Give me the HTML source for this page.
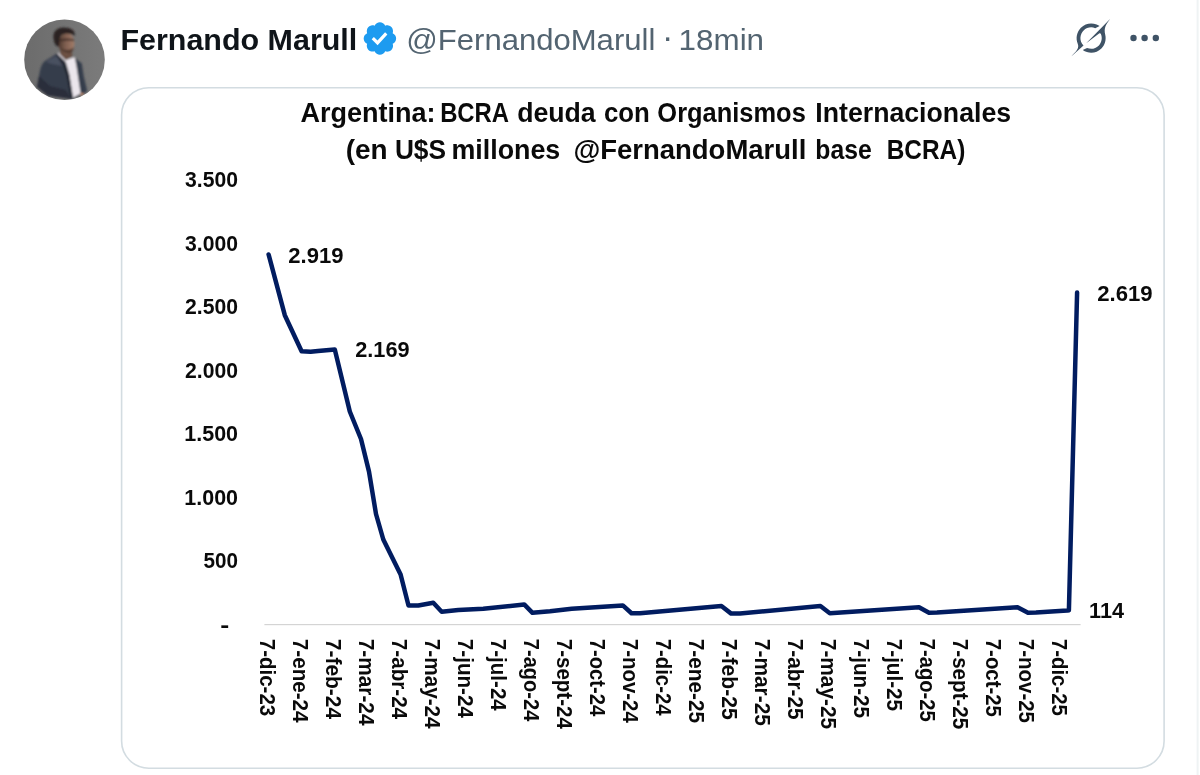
<!DOCTYPE html>
<html lang="es"><head><meta charset="utf-8"><title>Fernando Marull</title>
<style>
html,body{margin:0;padding:0;background:#fff;}
body{width:1200px;height:775px;overflow:hidden;font-family:"Liberation Sans", sans-serif;}
svg{display:block;}
text{font-family:"Liberation Sans", sans-serif;}
.b{font-weight:bold;}
</style></head><body>
<svg width="1200" height="775" viewBox="0 0 1200 775">
<defs>
<clipPath id="av"><circle cx="64.5" cy="59.7" r="40.3"/></clipPath>
<filter id="bl" x="-10%" y="-10%" width="120%" height="120%"><feGaussianBlur stdDeviation="0.9"/></filter>
<linearGradient id="bg" x1="0" y1="0" x2="1" y2="0"><stop offset="0" stop-color="#6b6b6b"/><stop offset="1" stop-color="#7c7c7c"/></linearGradient>
<linearGradient id="fc" x1="0" y1="0" x2="1" y2="0"><stop offset="0" stop-color="#503b31"/><stop offset=".45" stop-color="#805f50"/><stop offset="1" stop-color="#a37d6a"/></linearGradient>
</defs>
<rect width="1200" height="775" fill="#fff"/>

<rect x="1196.6" y="0" width="2" height="775" fill="#eff3f4"/>
<g clip-path="url(#av)">
<rect x="20" y="15" width="90" height="90" fill="url(#bg)"/>
<g filter="url(#bl)">
<path d="M57 53.500 L44.600 61.300 C41.500 64 40.300 68.700 39.500 73 L37 87 L47.700 95.500 L71 99 L81 95.500 L87.200 91 L83.700 76 L81.800 63.400 L74.700 57.800 L66 60 Z" fill="#363c4b"/>
<path d="M46 62 C50 58.500 54 57 57.500 56 L62 66 L52 64 Z" fill="#535a6b" opacity=".7"/>
<path d="M39 76 L37 87 L47.700 95.500 L71 99 L66 90 L50 86 Z" fill="#262a35" opacity=".75"/>
<path d="M57.800 52 L65.700 60 L74.700 57 L76.500 66.600 L80.600 93.500 L73.100 97.800 L69.500 75 L65.700 62 L58.500 55 Z" fill="#ebe6ec"/>
<path d="M57.500 54 L65.500 62 L69.300 75 L72.800 97.500 L70.500 98.500 L66.500 76 L62.500 64 L56.500 56 Z" fill="#1f232d" opacity=".8"/>
<path d="M60.400 50 L71.500 50 L72.500 56.500 L66 60 L60 54.500 Z" fill="#6a4f43"/>
<ellipse cx="66.500" cy="43.600" rx="8" ry="10.600" fill="url(#fc)"/>
<path d="M54.200 42 C52.400 35 53.700 30.800 58 28.700 C62 26.800 68.500 27 72 29.600 C74.500 31.500 75.200 33.500 74.600 36 C71.500 32.800 64.500 32.800 60.800 35.200 C59.800 38.500 59.500 42 59 46.500 C57 46.800 55 45 54.200 42 Z" fill="#2a2320"/>
<path d="M60.500 39.300 C64 38.300 70 38.300 74 39.200 L74 41.300 C70 40.600 64 40.700 60.500 41.600 Z" fill="#3a2a24" opacity=".75"/>
<path d="M60 47 C62 51.500 66 54.500 70.500 53 C72.500 52 73.500 49.500 74 47 C71 50.500 64 51 60 47 Z" fill="#4a362d" opacity=".85"/>
<ellipse cx="81.800" cy="94.200" rx="1.600" ry="1.100" fill="#c98a62"/>
</g></g>

<svg x="360.9" y="19.5" width="38" height="38" viewBox="0 0 22 22"><path fill="#1d9bf0" d="M20.396 11c-.018-.646-.215-1.275-.57-1.816-.354-.54-.852-.972-1.438-1.246.223-.607.27-1.264.14-1.897-.131-.634-.437-1.218-.882-1.687-.47-.445-1.053-.75-1.687-.882-.633-.13-1.29-.083-1.897.14-.273-.587-.704-1.086-1.245-1.44S11.647 1.620 11 1.604c-.646.017-1.273.213-1.813.568s-.969.854-1.240 1.440c-.608-.223-1.267-.272-1.902-.140-.635.130-1.220.436-1.690.882-.445.470-.749 1.055-.878 1.688-.130.633-.080 1.290.144 1.896-.587.274-1.087.705-1.443 1.245-.356.540-.555 1.170-.574 1.817.020.647.218 1.276.574 1.817.356.540.856.972 1.443 1.245-.224.606-.274 1.263-.144 1.896.130.634.433 1.218.877 1.688.470.443 1.054.747 1.687.878.633.132 1.290.084 1.897-.136.274.586.705 1.084 1.246 1.439.540.354 1.170.551 1.816.569.647-.016 1.276-.213 1.817-.567s.972-.854 1.245-1.440c.604.239 1.266.296 1.903.164.636-.132 1.220-.447 1.680-.907.460-.460.776-1.044.908-1.681s.075-1.299-.165-1.903c.586-.274 1.084-.705 1.439-1.246.354-.540.551-1.170.569-1.816zM9.662 14.850l-3.429-3.428 1.293-1.302 2.072 2.072 4.400-4.794 1.347 1.246z"/></svg>
<text x="662.0" y="47.6" font-size="34" fill="#536471">·</text>
<svg x="1071.2" y="19.0" width="38.8" height="37.6" viewBox="0 0 33 32"><path fill="#3f5366" d="M12.745 20.540l10.970-8.190c.539-.400 1.307-.244 1.564.380 1.349 3.288.746 7.241-1.938 9.955-2.683 2.714-6.417 3.310-9.830 1.954l-3.728 1.745c5.347 3.697 11.840 2.782 15.898-1.324 3.219-3.255 4.216-7.692 3.284-11.693l.008.009c-1.351-5.878.332-8.227 3.782-13.031L33 0l-4.540 4.590v-.014L12.743 20.544m-2.263 1.987c-3.837-3.707-3.175-9.446.100-12.755 2.420-2.449 6.388-3.448 9.852-1.979l3.720-1.737c-.670-.490-1.530-1.017-2.515-1.387-4.455-1.854-9.789-.931-13.410 2.728-3.483 3.523-4.579 8.940-2.697 13.561 1.405 3.454-.899 5.898-3.220 8.364C1.490 30.200.666 31.074 0 32l10.478-9.466"/></svg>

<circle cx="1133.5" cy="38" r="3.2" fill="#3f5366"/>
<circle cx="1144.6" cy="38" r="3.2" fill="#3f5366"/>
<circle cx="1155.8" cy="38" r="3.2" fill="#3f5366"/>
<rect x="121.600" y="87.700" width="1042.500" height="680.500" rx="27.2" ry="27.2" fill="#fff" stroke="#d3dce1" stroke-width="1.600"/>
<rect x="264.400" y="624" width="816.200" height="1.200" fill="#d4d4d4"/>
<path d="M268.6 254.5 L284.8 315.2 L301.6 351.3 L310.6 351.8 L318.0 351.0 L334.8 349.5 L349.8 411.5 L361.0 439.0 L369.0 471.6 L376.0 514.0 L383.3 539.5 L400.6 574.5 L408.5 605.5 L418.3 605.5 L433.3 602.8 L441.7 611.7 L458.3 610.0 L483.3 608.8 L524.2 604.4 L532.5 612.8 L550.0 611.3 L571.7 608.8 L622.8 605.4 L631.5 613.2 L640.0 613.2 L721.4 606.0 L731.2 613.6 L740.0 613.6 L820.4 606.0 L829.8 613.2 L919.0 607.3 L929.0 612.8 L937.0 612.6 L1017.5 607.3 L1028.0 612.8 L1036.0 612.6 L1067.3 610.6 L1068.9 610.2 L1077.1 292.5" fill="none" stroke="#011c60" stroke-width="4.5" stroke-linejoin="round" stroke-linecap="round"/>
<text class="b" x="300.49" y="122.00" font-size="27.2" fill="#0a0a0a" textLength="135.09" lengthAdjust="spacingAndGlyphs">Argentina:</text>
<text class="b" x="440.13" y="122.00" font-size="27.2" fill="#0a0a0a" textLength="68.98" lengthAdjust="spacingAndGlyphs">BCRA</text>
<text class="b" x="517.15" y="122.00" font-size="27.2" fill="#0a0a0a" textLength="78.50" lengthAdjust="spacingAndGlyphs">deuda</text>
<text class="b" x="604.04" y="122.00" font-size="27.2" fill="#0a0a0a" textLength="45.85" lengthAdjust="spacingAndGlyphs">con</text>
<text class="b" x="657.35" y="122.00" font-size="27.2" fill="#0a0a0a" textLength="148.45" lengthAdjust="spacingAndGlyphs">Organismos</text>
<text class="b" x="815.30" y="122.00" font-size="27.2" fill="#0a0a0a" textLength="195.79" lengthAdjust="spacingAndGlyphs">Internacionales</text>
<text class="b" x="345.73" y="159.10" font-size="27.2" fill="#0a0a0a" textLength="41.84" lengthAdjust="spacingAndGlyphs">(en</text>
<text class="b" x="394.88" y="159.10" font-size="27.2" fill="#0a0a0a" textLength="51.15" lengthAdjust="spacingAndGlyphs">U$S</text>
<text class="b" x="451.44" y="159.10" font-size="27.2" fill="#0a0a0a" textLength="108.85" lengthAdjust="spacingAndGlyphs">millones</text>
<text class="b" x="573.49" y="159.10" font-size="27.2" fill="#0a0a0a" textLength="232.81" lengthAdjust="spacingAndGlyphs">@FernandoMarull</text>
<text class="b" x="815.32" y="159.10" font-size="27.2" fill="#0a0a0a" textLength="56.43" lengthAdjust="spacingAndGlyphs">base</text>
<text class="b" x="886.73" y="159.10" font-size="27.2" fill="#0a0a0a" textLength="78.60" lengthAdjust="spacingAndGlyphs">BCRA)</text>
<text class="b" x="185.06" y="187.00" font-size="22.0" fill="#0a0a0a" textLength="52.99" lengthAdjust="spacingAndGlyphs">3.500</text>
<text class="b" x="185.06" y="250.50" font-size="22.0" fill="#0a0a0a" textLength="52.99" lengthAdjust="spacingAndGlyphs">3.000</text>
<text class="b" x="185.05" y="314.00" font-size="22.0" fill="#0a0a0a" textLength="52.98" lengthAdjust="spacingAndGlyphs">2.500</text>
<text class="b" x="185.05" y="377.50" font-size="22.0" fill="#0a0a0a" textLength="52.98" lengthAdjust="spacingAndGlyphs">2.000</text>
<text class="b" x="184.29" y="441.00" font-size="22.0" fill="#0a0a0a" textLength="53.76" lengthAdjust="spacingAndGlyphs">1.500</text>
<text class="b" x="184.29" y="504.50" font-size="22.0" fill="#0a0a0a" textLength="53.76" lengthAdjust="spacingAndGlyphs">1.000</text>
<text class="b" x="203.56" y="568.00" font-size="22.0" fill="#0a0a0a" textLength="34.48" lengthAdjust="spacingAndGlyphs">500</text>
<text class="b" x="220.27" y="632.10" font-size="22.0" fill="#0a0a0a" textLength="8.99" lengthAdjust="spacingAndGlyphs">-</text>
<text class="b" x="288.30" y="262.60" font-size="22.0" fill="#0a0a0a" textLength="55.10" lengthAdjust="spacingAndGlyphs">2.919</text>
<text class="b" x="355.26" y="357.00" font-size="22.0" fill="#0a0a0a" textLength="54.39" lengthAdjust="spacingAndGlyphs">2.169</text>
<text class="b" x="1097.31" y="300.60" font-size="22.0" fill="#0a0a0a" textLength="55.36" lengthAdjust="spacingAndGlyphs">2.619</text>
<text class="b" x="1089.07" y="617.60" font-size="22.0" fill="#0a0a0a" textLength="34.89" lengthAdjust="spacingAndGlyphs">114</text>
<text class="b" transform="translate(259.80 638.80) rotate(90)" font-size="22.0" fill="#0a0a0a" textLength="77.39" lengthAdjust="spacingAndGlyphs">7-dic-23</text>
<text class="b" transform="translate(292.80 638.81) rotate(90)" font-size="22.0" fill="#0a0a0a" textLength="83.79" lengthAdjust="spacingAndGlyphs">7-ene-24</text>
<text class="b" transform="translate(325.80 638.81) rotate(90)" font-size="22.0" fill="#0a0a0a" textLength="80.34" lengthAdjust="spacingAndGlyphs">7-feb-24</text>
<text class="b" transform="translate(358.80 638.81) rotate(90)" font-size="22.0" fill="#0a0a0a" textLength="86.64" lengthAdjust="spacingAndGlyphs">7-mar-24</text>
<text class="b" transform="translate(391.80 638.81) rotate(90)" font-size="22.0" fill="#0a0a0a" textLength="80.29" lengthAdjust="spacingAndGlyphs">7-abr-24</text>
<text class="b" transform="translate(424.80 638.81) rotate(90)" font-size="22.0" fill="#0a0a0a" textLength="89.79" lengthAdjust="spacingAndGlyphs">7-may-24</text>
<text class="b" transform="translate(457.80 638.81) rotate(90)" font-size="22.0" fill="#0a0a0a" textLength="79.09" lengthAdjust="spacingAndGlyphs">7-jun-24</text>
<text class="b" transform="translate(490.80 638.81) rotate(90)" font-size="22.0" fill="#0a0a0a" textLength="71.94" lengthAdjust="spacingAndGlyphs">7-jul-24</text>
<text class="b" transform="translate(523.80 638.81) rotate(90)" font-size="22.0" fill="#0a0a0a" textLength="82.49" lengthAdjust="spacingAndGlyphs">7-ago-24</text>
<text class="b" transform="translate(556.80 638.81) rotate(90)" font-size="22.0" fill="#0a0a0a" textLength="89.99" lengthAdjust="spacingAndGlyphs">7-sept-24</text>
<text class="b" transform="translate(589.80 638.81) rotate(90)" font-size="22.0" fill="#0a0a0a" textLength="77.49" lengthAdjust="spacingAndGlyphs">7-oct-24</text>
<text class="b" transform="translate(622.80 638.81) rotate(90)" font-size="22.0" fill="#0a0a0a" textLength="83.94" lengthAdjust="spacingAndGlyphs">7-nov-24</text>
<text class="b" transform="translate(655.80 638.81) rotate(90)" font-size="22.0" fill="#0a0a0a" textLength="76.64" lengthAdjust="spacingAndGlyphs">7-dic-24</text>
<text class="b" transform="translate(688.80 638.81) rotate(90)" font-size="22.0" fill="#0a0a0a" textLength="84.29" lengthAdjust="spacingAndGlyphs">7-ene-25</text>
<text class="b" transform="translate(721.80 638.80) rotate(90)" font-size="22.0" fill="#0a0a0a" textLength="80.84" lengthAdjust="spacingAndGlyphs">7-feb-25</text>
<text class="b" transform="translate(754.80 638.81) rotate(90)" font-size="22.0" fill="#0a0a0a" textLength="87.14" lengthAdjust="spacingAndGlyphs">7-mar-25</text>
<text class="b" transform="translate(787.80 638.81) rotate(90)" font-size="22.0" fill="#0a0a0a" textLength="80.74" lengthAdjust="spacingAndGlyphs">7-abr-25</text>
<text class="b" transform="translate(820.80 638.80) rotate(90)" font-size="22.0" fill="#0a0a0a" textLength="90.29" lengthAdjust="spacingAndGlyphs">7-may-25</text>
<text class="b" transform="translate(853.80 638.81) rotate(90)" font-size="22.0" fill="#0a0a0a" textLength="79.29" lengthAdjust="spacingAndGlyphs">7-jun-25</text>
<text class="b" transform="translate(886.80 638.81) rotate(90)" font-size="22.0" fill="#0a0a0a" textLength="72.20" lengthAdjust="spacingAndGlyphs">7-jul-25</text>
<text class="b" transform="translate(919.80 638.80) rotate(90)" font-size="22.0" fill="#0a0a0a" textLength="82.99" lengthAdjust="spacingAndGlyphs">7-ago-25</text>
<text class="b" transform="translate(952.80 638.80) rotate(90)" font-size="22.0" fill="#0a0a0a" textLength="90.49" lengthAdjust="spacingAndGlyphs">7-sept-25</text>
<text class="b" transform="translate(985.80 638.81) rotate(90)" font-size="22.0" fill="#0a0a0a" textLength="77.99" lengthAdjust="spacingAndGlyphs">7-oct-25</text>
<text class="b" transform="translate(1018.80 638.80) rotate(90)" font-size="22.0" fill="#0a0a0a" textLength="84.20" lengthAdjust="spacingAndGlyphs">7-nov-25</text>
<text class="b" transform="translate(1051.80 638.81) rotate(90)" font-size="22.0" fill="#0a0a0a" textLength="77.14" lengthAdjust="spacingAndGlyphs">7-dic-25</text>
<text class="b" x="120.48" y="49.60" font-size="30.0" fill="#0f1419" textLength="236.79" lengthAdjust="spacingAndGlyphs">Fernando Marull</text>
<text x="406.28" y="49.60" font-size="30.2" fill="#536471" textLength="249.05" lengthAdjust="spacingAndGlyphs">@FernandoMarull</text>
<text x="678.62" y="49.60" font-size="30.2" fill="#536471" textLength="85.48" lengthAdjust="spacingAndGlyphs">18min</text>
</svg></body></html>
